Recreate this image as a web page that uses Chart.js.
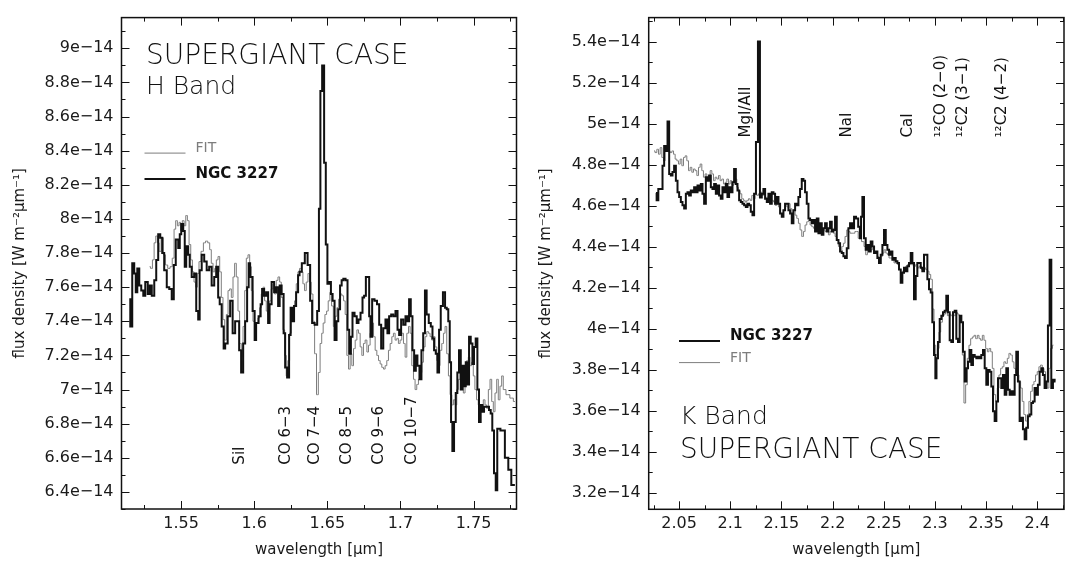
<!DOCTYPE html>
<html>
<head>
<meta charset="utf-8">
<script src="https://cdn.jsdelivr.net/npm/chart.js@4.4.1/dist/chart.umd.min.js"></script>
<style>
html, body { margin: 0; padding: 0; background: #fff; }
#wrap { position: relative; width: 1065px; height: 565px; overflow: hidden; }
canvas { position: absolute; top: 0; }
#chartH { left: 0; }
#chartK { left: 532px; }
</style>
</head>
<body>
<div id="wrap">
  <canvas id="chartH" width="532" height="565"></canvas>
  <canvas id="chartK" width="533" height="565"></canvas>
</div>
<script>
// H band, NGC 3227 (flux in units of 1e-14 W m^-2 um^-1)
var hWave = [1.5146,1.5160,1.5173,1.5187,1.5194,1.5208,1.5221,1.5235,1.5249,1.5262,1.5283,1.5290,1.5310,1.5324,1.5337,1.5351,1.5365,1.5378,1.5392,1.5413,1.5426,1.5447,1.5454,1.5474,1.5488,1.5495,1.5508,1.5522,1.5529,1.5542,1.5556,1.5563,1.5583,1.5597,1.5611,1.5624,1.5631,1.5652,1.5665,1.5686,1.5699,1.5720,1.5734,1.5747,1.5761,1.5768,1.5788,1.5795,1.5809,1.5829,1.5843,1.5863,1.5877,1.5891,1.5904,1.5918,1.5932,1.5945,1.5959,1.5966,1.5979,1.6000,1.6007,1.6020,1.6041,1.6048,1.6061,1.6075,1.6089,1.6102,1.6109,1.6130,1.6143,1.6157,1.6171,1.6178,1.6198,1.6205,1.6219,1.6232,1.6246,1.6253,1.6266,1.6280,1.6294,1.6307,1.6314,1.6338,1.6355,1.6376,1.6390,1.6403,1.6424,1.6438,1.6448,1.6458,1.6472,1.6485,1.6495,1.6507,1.6519,1.6531,1.6542,1.6558,1.6569,1.6581,1.6594,1.6603,1.6617,1.6633,1.6644,1.6656,1.6667,1.6678,1.6695,1.6708,1.6719,1.6736,1.6746,1.6758,1.6770,1.6781,1.6792,1.6799,1.6815,1.6831,1.6849,1.6861,1.6876,1.6890,1.6906,1.6917,1.6929,1.6945,1.6958,1.6975,1.6986,1.6997,1.7013,1.7027,1.7043,1.7054,1.7065,1.7077,1.7088,1.7100,1.7111,1.7122,1.7139,1.7149,1.7163,1.7173,1.7186,1.7202,1.7214,1.7225,1.7236,1.7248,1.7259,1.7270,1.7282,1.7300,1.7311,1.7323,1.7332,1.7343,1.7350,1.7361,1.7373,1.7384,1.7395,1.7407,1.7419,1.7430,1.7441,1.7453,1.7464,1.7475,1.7487,1.7498,1.7509,1.7521,1.7532,1.7543,1.7555,1.7566,1.7578,1.7600,1.7612,1.7623,1.7634,1.7646,1.7658,1.7667,1.7701,1.7728,1.7748,1.7769,1.7783];
var hFlux = [7.53,7.37,7.74,7.68,7.57,7.71,7.61,7.58,7.55,7.63,7.56,7.61,7.55,7.64,7.76,7.91,7.89,7.80,7.70,7.60,7.59,7.53,7.73,7.88,7.83,7.91,7.97,7.93,7.72,7.84,7.79,7.72,7.66,7.68,7.46,7.41,7.70,7.79,7.75,7.70,7.72,7.61,7.66,7.72,7.54,7.50,7.37,7.24,7.27,7.43,7.52,7.33,7.40,7.40,7.23,7.10,7.27,7.40,7.60,7.74,7.66,7.46,7.29,7.39,7.43,7.50,7.59,7.55,7.57,7.39,7.50,7.63,7.57,7.60,7.49,7.61,7.56,7.33,7.13,7.07,7.32,7.48,7.40,7.49,7.57,7.67,7.69,7.74,7.80,7.73,7.52,7.39,7.38,7.46,8.06,8.75,8.90,8.33,7.85,7.62,7.63,7.56,7.52,7.29,7.40,7.47,7.61,7.64,7.65,7.64,7.35,7.21,7.31,7.45,7.43,7.39,7.41,7.45,7.54,7.55,7.66,7.66,7.43,7.31,7.53,7.52,7.50,7.38,7.24,7.36,7.41,7.33,7.43,7.44,7.43,7.46,7.35,7.32,7.41,7.38,7.43,7.40,7.53,7.43,7.23,7.11,7.20,7.14,7.06,7.23,7.33,7.58,7.44,7.39,7.37,7.30,7.23,7.21,7.10,7.35,7.49,7.57,7.48,7.47,7.40,7.16,6.81,6.64,6.81,6.98,7.10,7.23,7.00,7.14,7.02,7.16,7.03,7.31,7.27,7.15,7.25,7.30,7.00,6.81,6.91,6.87,6.90,6.90,6.88,6.86,6.76,6.51,6.41,6.77,6.76,6.60,6.53,6.44,6.44];

// H band, supergiant fit
var hFitWave = [1.5285,1.5299,1.5310,1.5322,1.5333,1.5344,1.5356,1.5372,1.5387,1.5401,1.5417,1.5433,1.5447,1.5458,1.5469,1.5481,1.5492,1.5503,1.5515,1.5527,1.5538,1.5549,1.5561,1.5572,1.5583,1.5595,1.5606,1.5617,1.5629,1.5645,1.5661,1.5674,1.5691,1.5701,1.5713,1.5725,1.5736,1.5747,1.5759,1.5770,1.5781,1.5793,1.5804,1.5816,1.5827,1.5838,1.5850,1.5861,1.5872,1.5884,1.5895,1.5906,1.5918,1.5930,1.5941,1.5952,1.5964,1.5975,1.5986,1.5998,1.6009,1.6020,1.6032,1.6043,1.6055,1.6066,1.6077,1.6089,1.6100,1.6111,1.6123,1.6135,1.6145,1.6157,1.6169,1.6180,1.6191,1.6203,1.6214,1.6225,1.6237,1.6248,1.6260,1.6271,1.6282,1.6294,1.6305,1.6316,1.6328,1.6339,1.6350,1.6362,1.6374,1.6384,1.6396,1.6408,1.6419,1.6434,1.6444,1.6458,1.6466,1.6478,1.6490,1.6501,1.6512,1.6524,1.6535,1.6548,1.6560,1.6572,1.6583,1.6594,1.6606,1.6617,1.6628,1.6640,1.6651,1.6662,1.6674,1.6685,1.6697,1.6708,1.6719,1.6731,1.6742,1.6753,1.6765,1.6777,1.6787,1.6799,1.6811,1.6822,1.6833,1.6845,1.6856,1.6867,1.6879,1.6890,1.6901,1.6913,1.6924,1.6936,1.6947,1.6958,1.6970,1.6981,1.6992,1.7004,1.7015,1.7027,1.7038,1.7050,1.7061,1.7072,1.7084,1.7095,1.7106,1.7118,1.7129,1.7141,1.7152,1.7163,1.7175,1.7186,1.7197,1.7209,1.7220,1.7231,1.7243,1.7255,1.7265,1.7277,1.7289,1.7300,1.7311,1.7323,1.7334,1.7346,1.7357,1.7368,1.7380,1.7391,1.7402,1.7414,1.7425,1.7436,1.7448,1.7459,1.7470,1.7482,1.7493,1.7504,1.7515,1.7527,1.7538,1.7549,1.7561,1.7573,1.7584,1.7596,1.7607,1.7619,1.7630,1.7641,1.7653,1.7664,1.7675,1.7687,1.7698,1.7709,1.7735,1.7762,1.7783];
var hFitFlux = [7.72,7.71,7.76,7.86,7.90,7.86,7.81,7.89,7.79,7.73,7.71,7.72,7.77,7.94,7.99,7.96,7.98,7.93,7.99,7.96,8.02,7.99,7.85,7.76,7.69,7.63,7.60,7.68,7.75,7.81,7.86,7.87,7.86,7.82,7.74,7.69,7.71,7.76,7.78,7.69,7.54,7.41,7.29,7.44,7.58,7.59,7.54,7.66,7.74,7.66,7.46,7.27,7.24,7.37,7.58,7.77,7.79,7.72,7.58,7.40,7.36,7.39,7.42,7.48,7.56,7.60,7.52,7.46,7.44,7.52,7.59,7.62,7.56,7.64,7.66,7.63,7.54,7.35,7.20,7.08,7.17,7.33,7.41,7.48,7.52,7.62,7.69,7.71,7.69,7.62,7.58,7.63,7.68,7.63,7.56,7.40,7.21,6.97,7.10,7.27,7.33,7.39,7.44,7.46,7.52,7.57,7.49,7.37,7.43,7.48,7.53,7.56,7.55,7.52,7.44,7.20,7.12,7.21,7.14,7.24,7.29,7.35,7.33,7.25,7.20,7.27,7.29,7.22,7.26,7.33,7.39,7.31,7.23,7.20,7.17,7.15,7.13,7.12,7.14,7.17,7.23,7.27,7.31,7.33,7.29,7.30,7.27,7.29,7.33,7.27,7.19,7.33,7.37,7.33,7.14,7.06,7.00,7.03,7.06,7.10,7.16,7.25,7.31,7.34,7.33,7.31,7.29,7.31,7.25,7.17,7.14,7.23,7.27,7.33,7.37,7.21,7.08,6.97,6.91,6.94,6.91,7.00,7.06,7.10,7.06,6.98,7.08,7.17,7.19,7.14,7.16,7.08,7.00,6.94,6.91,6.87,6.89,6.94,6.91,6.89,7.00,7.06,6.93,6.87,6.98,7.06,6.94,7.02,7.08,7.00,6.97,6.95,6.93];

// K band, NGC 3227
var kWave = [2.0274,2.0287,2.0307,2.0330,2.0346,2.0362,2.0379,2.0395,2.0411,2.0428,2.0443,2.0460,2.0477,2.0492,2.0509,2.0525,2.0541,2.0558,2.0574,2.0590,2.0606,2.0623,2.0639,2.0655,2.0672,2.0688,2.0704,2.0721,2.0736,2.0753,2.0770,2.0785,2.0802,2.0818,2.0834,2.0851,2.0867,2.0883,2.0899,2.0916,2.0932,2.0948,2.0965,2.0980,2.0997,2.1014,2.1029,2.1046,2.1063,2.1078,2.1095,2.1111,2.1127,2.1144,2.1160,2.1176,2.1192,2.1209,2.1225,2.1241,2.1261,2.1280,2.1300,2.1316,2.1332,2.1349,2.1365,2.1381,2.1397,2.1414,2.1430,2.1446,2.1463,2.1479,2.1495,2.1512,2.1527,2.1544,2.1561,2.1576,2.1593,2.1609,2.1625,2.1642,2.1658,2.1674,2.1690,2.1707,2.1723,2.1739,2.1756,2.1772,2.1788,2.1805,2.1820,2.1837,2.1854,2.1869,2.1886,2.1902,2.1918,2.1935,2.1951,2.1967,2.1983,2.2000,2.2016,2.2032,2.2049,2.2065,2.2081,2.2098,2.2113,2.2130,2.2147,2.2162,2.2179,2.2201,2.2218,2.2240,2.2260,2.2273,2.2283,2.2299,2.2315,2.2332,2.2348,2.2364,2.2381,2.2397,2.2413,2.2430,2.2445,2.2462,2.2479,2.2494,2.2511,2.2528,2.2543,2.2560,2.2576,2.2592,2.2608,2.2625,2.2641,2.2657,2.2674,2.2689,2.2706,2.2723,2.2738,2.2755,2.2772,2.2787,2.2804,2.2820,2.2836,2.2853,2.2869,2.2885,2.2901,2.2918,2.2934,2.2950,2.2967,2.2982,2.2999,2.3009,2.3021,2.3038,2.3055,2.3070,2.3087,2.3103,2.3119,2.3136,2.3152,2.3168,2.3185,2.3201,2.3217,2.3233,2.3250,2.3266,2.3282,2.3299,2.3315,2.3331,2.3348,2.3363,2.3380,2.3397,2.3412,2.3429,2.3445,2.3461,2.3478,2.3494,2.3510,2.3526,2.3543,2.3559,2.3575,2.3592,2.3608,2.3624,2.3641,2.3656,2.3673,2.3690,2.3705,2.3722,2.3738,2.3754,2.3771,2.3787,2.3803,2.3819,2.3836,2.3852,2.3868,2.3885,2.3900,2.3917,2.3934,2.3949,2.3966,2.3982,2.3998,2.4014,2.4031,2.4047,2.4063,2.4080,2.4096,2.4112,2.4129,2.4145,2.4161,2.4178];
var kFlux = [4.662,4.626,4.682,4.682,4.795,4.891,4.867,5.011,4.755,4.747,4.764,4.795,4.722,4.666,4.642,4.618,4.602,4.586,4.658,4.666,4.650,4.674,4.666,4.690,4.666,4.698,4.674,4.706,4.658,4.610,4.739,4.722,4.747,4.690,4.682,4.706,4.658,4.698,4.650,4.634,4.690,4.666,4.706,4.642,4.690,4.666,4.714,4.779,4.706,4.674,4.626,4.618,4.610,4.602,4.594,4.610,4.602,4.570,4.554,4.658,4.910,5.400,4.640,4.658,4.682,4.634,4.618,4.658,4.610,4.666,4.658,4.610,4.642,4.610,4.562,4.546,4.578,4.610,4.610,4.578,4.562,4.514,4.578,4.610,4.602,4.642,4.682,4.730,4.722,4.666,4.610,4.538,4.530,4.514,4.530,4.474,4.538,4.466,4.514,4.458,4.490,4.514,4.474,4.490,4.522,4.474,4.482,4.546,4.433,4.417,4.377,4.369,4.353,4.345,4.393,4.490,4.514,4.490,4.546,4.538,4.498,4.441,4.546,4.642,4.441,4.385,4.409,4.377,4.425,4.401,4.369,4.377,4.345,4.321,4.361,4.409,4.481,4.409,4.385,4.361,4.377,4.337,4.345,4.329,4.321,4.289,4.225,4.273,4.297,4.281,4.305,4.321,4.369,4.321,4.144,4.257,4.321,4.321,4.297,4.281,4.361,4.361,4.241,4.193,4.177,4.032,3.872,3.759,3.856,3.936,4.048,4.064,4.080,4.088,4.161,4.080,3.944,3.936,4.080,4.088,3.952,3.936,4.064,4.032,3.888,3.743,3.807,3.839,3.896,3.823,3.872,3.864,3.856,3.864,3.856,3.872,3.896,3.807,3.727,3.799,3.791,3.719,3.598,3.550,3.646,3.759,3.759,3.711,3.775,3.679,3.807,3.703,3.679,3.695,3.679,3.775,3.888,3.743,3.550,3.566,3.510,3.462,3.518,3.574,3.582,3.638,3.646,3.711,3.679,3.727,3.791,3.807,3.775,3.711,3.743,4.016,4.337,3.711,3.751,3.743];

// K band, supergiant fit
var kFitWave = [2.0255,2.0274,2.0291,2.0307,2.0323,2.0340,2.0355,2.0372,2.0389,2.0404,2.0421,2.0438,2.0453,2.0470,2.0486,2.0502,2.0519,2.0535,2.0551,2.0567,2.0584,2.0600,2.0616,2.0633,2.0648,2.0665,2.0682,2.0697,2.0714,2.0730,2.0746,2.0763,2.0779,2.0795,2.0812,2.0828,2.0844,2.0860,2.0877,2.0893,2.0909,2.0926,2.0941,2.0958,2.0975,2.0990,2.1007,2.1023,2.1039,2.1056,2.1072,2.1088,2.1104,2.1121,2.1137,2.1153,2.1170,2.1186,2.1202,2.1219,2.1234,2.1251,2.1268,2.1283,2.1300,2.1316,2.1332,2.1349,2.1365,2.1381,2.1397,2.1414,2.1430,2.1446,2.1463,2.1479,2.1495,2.1512,2.1527,2.1544,2.1561,2.1576,2.1593,2.1609,2.1625,2.1642,2.1658,2.1674,2.1690,2.1707,2.1723,2.1739,2.1756,2.1772,2.1788,2.1805,2.1820,2.1837,2.1854,2.1869,2.1886,2.1902,2.1918,2.1935,2.1951,2.1967,2.1983,2.2000,2.2016,2.2032,2.2049,2.2065,2.2081,2.2098,2.2113,2.2130,2.2147,2.2162,2.2179,2.2201,2.2234,2.2266,2.2299,2.2315,2.2332,2.2348,2.2364,2.2381,2.2397,2.2413,2.2430,2.2445,2.2462,2.2479,2.2494,2.2511,2.2528,2.2543,2.2560,2.2576,2.2592,2.2608,2.2625,2.2641,2.2657,2.2674,2.2689,2.2706,2.2723,2.2738,2.2772,2.2804,2.2820,2.2836,2.2853,2.2885,2.2901,2.2918,2.2934,2.2950,2.2967,2.2982,2.2999,2.3016,2.3031,2.3048,2.3064,2.3081,2.3097,2.3113,2.3130,2.3146,2.3162,2.3178,2.3194,2.3211,2.3227,2.3243,2.3260,2.3275,2.3292,2.3308,2.3324,2.3341,2.3357,2.3373,2.3390,2.3406,2.3422,2.3439,2.3455,2.3471,2.3487,2.3504,2.3520,2.3536,2.3553,2.3568,2.3585,2.3602,2.3617,2.3634,2.3650,2.3666,2.3682,2.3699,2.3715,2.3731,2.3748,2.3764,2.3780,2.3796,2.3812,2.3829,2.3845,2.3861,2.3877,2.3894,2.3910,2.3926,2.3943,2.3959,2.3975,2.3991,2.4008,2.4024,2.4040,2.4057,2.4073,2.4089,2.4105,2.4122,2.4138,2.4158];
var kFitFlux = [4.867,4.859,4.875,4.851,4.883,4.835,4.819,4.867,4.883,4.867,4.859,4.867,4.851,4.827,4.819,4.803,4.827,4.795,4.835,4.843,4.819,4.771,4.787,4.763,4.779,4.771,4.747,4.787,4.803,4.771,4.739,4.755,4.730,4.747,4.771,4.755,4.722,4.739,4.730,4.747,4.722,4.730,4.706,4.714,4.730,4.706,4.722,4.698,4.706,4.730,4.690,4.674,4.658,4.634,4.626,4.618,4.626,4.634,4.626,4.650,4.634,4.658,4.650,4.658,4.666,4.650,4.658,4.634,4.642,4.626,4.610,4.626,4.618,4.602,4.610,4.594,4.562,4.554,4.578,4.610,4.594,4.610,4.586,4.562,4.578,4.554,4.538,4.514,4.482,4.450,4.474,4.506,4.522,4.530,4.506,4.498,4.490,4.474,4.498,4.482,4.490,4.466,4.482,4.474,4.490,4.458,4.474,4.490,4.466,4.450,4.433,4.401,4.385,4.401,4.417,4.450,4.482,4.474,4.466,4.466,4.474,4.441,4.425,4.401,4.361,4.385,4.401,4.385,4.393,4.369,4.377,4.353,4.337,4.353,4.369,4.385,4.369,4.361,4.345,4.345,4.337,4.321,4.329,4.313,4.289,4.273,4.281,4.297,4.305,4.313,4.313,4.305,4.313,4.297,4.305,4.289,4.297,4.289,4.281,4.265,4.241,4.096,3.920,3.872,3.904,3.984,4.032,4.064,4.072,4.080,4.064,4.072,4.064,4.072,4.064,4.080,4.072,4.064,4.032,3.872,3.638,3.727,3.856,3.920,3.952,3.960,3.968,3.952,3.968,3.952,3.944,3.968,3.944,3.904,3.888,3.904,3.888,3.807,3.679,3.646,3.711,3.775,3.807,3.815,3.839,3.831,3.856,3.880,3.872,3.839,3.807,3.783,3.775,3.743,3.711,3.646,3.582,3.550,3.582,3.646,3.695,3.727,3.743,3.775,3.791,3.815,3.823,3.807,3.791,3.743,3.711,3.807,3.904,3.920];

// spectral feature labels
var hLines = ['SiI', 'CO 6\u22123', 'CO 7\u22124', 'CO 8\u22125', 'CO 9\u22126', 'CO 10\u22127'];
var hLineWave = [1.5906, 1.6219, 1.6417, 1.6635, 1.6854, 1.7083];
var kLines = ['MgI/AlI', 'NaI', 'CaI', '\u00b9\u00b2CO (2\u22120)', '\u00b9\u00b2C2 (3\u22121)', '\u00b9\u00b2C2 (4\u22122)'];
var kLineWave = [2.1159, 2.2140, 2.2742, 2.3058, 2.3272, 2.3658];

const INK = '#111';
const GREY = '#7d7d7d';
const FONT = "'DejaVu Sans', sans-serif";

Chart.defaults.font.family = FONT;
Chart.defaults.color = '#1a1a1a';

function pairs(xs, ys) {
    return xs.map((x, i) => ({ x: x, y: ys[i] }));
}

const fluxTick = v => (Math.round(v * 10) / 10) + 'e\u221214';
const waveTick = v => String(Math.round(v * 100) / 100);

// inward ticks on all four sides plus the frame
const frameTicks = {
    id: 'frameTicks',
    afterDatasetsDraw(chart) {
        const { ctx, chartArea: a } = chart;
        const sx = chart.scales.x, sy = chart.scales.y;
        ctx.save();
        ctx.strokeStyle = INK;
        ctx.lineWidth = 1;
        ctx.beginPath();
        for (let i = Math.ceil(sx.min / 0.025 - 1e-6); i * 0.025 <= sx.max; i++) {
            const p = Math.round(sx.getPixelForValue(i * 0.025)) + 0.5;
            const len = i % 2 === 0 ? 8 : 4;
            ctx.moveTo(p, a.bottom); ctx.lineTo(p, a.bottom - len);
            ctx.moveTo(p, a.top); ctx.lineTo(p, a.top + len);
        }
        for (let i = Math.ceil(sy.min / 0.1 - 1e-6); i * 0.1 <= sy.max; i++) {
            const p = Math.round(sy.getPixelForValue(i * 0.1)) + 0.5;
            const len = i % 2 === 0 ? 8 : 4;
            ctx.moveTo(a.left, p); ctx.lineTo(a.left + len, p);
            ctx.moveTo(a.right, p); ctx.lineTo(a.right - len, p);
        }
        ctx.stroke();
        ctx.lineWidth = 1.5;
        ctx.strokeRect(a.left, a.top, a.right - a.left, a.bottom - a.top);
        ctx.restore();
    }
};

// captions, legend and line identifications
const notes = {
    id: 'notes',
    afterDraw(chart, args, o) {
        const { ctx, chartArea: a } = chart;
        const sx = chart.scales.x, sy = chart.scales.y;
        ctx.save();
        ctx.textAlign = 'left';
        ctx.textBaseline = 'alphabetic';
        ctx.fillStyle = INK;
        o.captions.forEach(c => {
            ctx.font = '200 ' + c.size + 'px ' + FONT;
            ctx.fillText(c.text, a.left + c.dx, a.top + c.dy);
        });
        o.legend.forEach(l => {
            ctx.strokeStyle = l.color;
            ctx.lineWidth = l.width;
            ctx.beginPath();
            ctx.moveTo(a.left + l.dx, a.top + l.dy);
            ctx.lineTo(a.left + l.dx + 41, a.top + l.dy);
            ctx.stroke();
            ctx.fillStyle = l.color;
            ctx.font = (l.bold ? 'bold 15px ' : '14px ') + FONT;
            ctx.fillText(l.text, a.left + l.dx + 51, a.top + l.dy - 1);
        });
        ctx.fillStyle = INK;
        ctx.font = '15px ' + FONT;
        ctx.textBaseline = 'middle';
        o.names.forEach((t, i) => {
            ctx.save();
            ctx.translate(sx.getPixelForValue(o.waves[i]), sy.getPixelForValue(o.level));
            ctx.rotate(-Math.PI / 2);
            ctx.fillText(t, 0, 0);
            ctx.restore();
        });
        ctx.restore();
    }
};

function makeOptions(c) {
    return {
        responsive: false,
        animation: false,
        layout: { padding: { left: 0, right: c.padRight, top: c.padTop, bottom: 0 } },
        plugins: {
            legend: { display: false },
            tooltip: { enabled: false },
            notes: c.notes
        },
        elements: { point: { radius: 0 } },
        scales: {
            x: {
                type: 'linear',
                min: c.xMin,
                max: c.xMax,
                afterFit: s => { s.height = c.xHeight; },
                border: { display: false },
                grid: { display: false, drawTicks: false },
                ticks: { stepSize: 0.05, includeBounds: false, autoSkip: false, maxRotation: 0,
                         padding: 5, font: { size: 16 }, callback: waveTick },
                title: { display: true, text: 'wavelength [\u03bcm]', font: { size: 15 },
                         padding: { top: 0, bottom: 6 } }
            },
            y: {
                type: 'linear',
                min: c.yMin,
                max: c.yMax,
                afterFit: s => { s.width = c.yWidth; },
                border: { display: false },
                grid: { display: false, drawTicks: false },
                ticks: { stepSize: 0.2, includeBounds: false, autoSkip: false,
                         padding: 8, font: { size: 16 }, callback: fluxTick },
                title: { display: true, text: 'flux density [W m\u207b\u00b2\u03bcm\u207b\u00b9]', font: { size: 15 },
                         padding: { top: c.yTitlePad, bottom: 0 } }
            }
        }
    };
}

new Chart(document.getElementById('chartH'), {
    type: 'line',
    data: {
        datasets: [
            { label: 'NGC 3227', data: pairs(hWave, hFlux), borderColor: INK, borderWidth: 2, stepped: 'middle' },
            { label: 'FIT', data: pairs(hFitWave, hFitFlux), borderColor: GREY, borderWidth: 1, stepped: 'middle' }
        ]
    },
    options: makeOptions({
        padRight: 15.5, padTop: 8.5, xHeight: 56, yWidth: 121.5, yTitlePad: 11.5,
        xMin: 1.5093, xMax: 1.7794, yMin: 6.30, yMax: 9.18,
        notes: {
            captions: [
                { text: 'SUPERGIANT CASE', size: 28, dx: 24.5, dy: 46.5 },
                { text: 'H Band', size: 25, dx: 24.5, dy: 76.5 }
            ],
            legend: [
                { text: 'FIT', color: GREY, width: 1, bold: false, dx: 23, dy: 135.5 },
                { text: 'NGC 3227', color: INK, width: 2, bold: true, dx: 23, dy: 161.5 }
            ],
            names: hLines, waves: hLineWave, level: 6.56
        }
    }),
    plugins: [frameTicks, notes]
});

new Chart(document.getElementById('chartK'), {
    type: 'line',
    data: {
        datasets: [
            { label: 'NGC 3227', data: pairs(kWave, kFlux), borderColor: INK, borderWidth: 2, stepped: 'middle' },
            { label: 'FIT', data: pairs(kFitWave, kFitFlux), borderColor: GREY, borderWidth: 1, stepped: 'middle' }
        ]
    },
    options: makeOptions({
        padRight: 1, padTop: 11.7, xHeight: 55.7, yWidth: 116.7, yTitlePad: 5,
        xMin: 2.0203, xMax: 2.4261, yMin: 3.12, yMax: 5.517,
        notes: {
            captions: [
                { text: 'K Band', size: 25, dx: 31.3, dy: 406.3 },
                { text: 'SUPERGIANT CASE', size: 28, dx: 31.3, dy: 440 }
            ],
            legend: [
                { text: 'NGC 3227', color: INK, width: 2, bold: true, dx: 30.3, dy: 323.3 },
                { text: 'FIT', color: GREY, width: 1, bold: false, dx: 30.3, dy: 345 }
            ],
            names: kLines, waves: kLineWave, level: 4.933
        }
    }),
    plugins: [frameTicks, notes]
});
</script>
</body>
</html>
